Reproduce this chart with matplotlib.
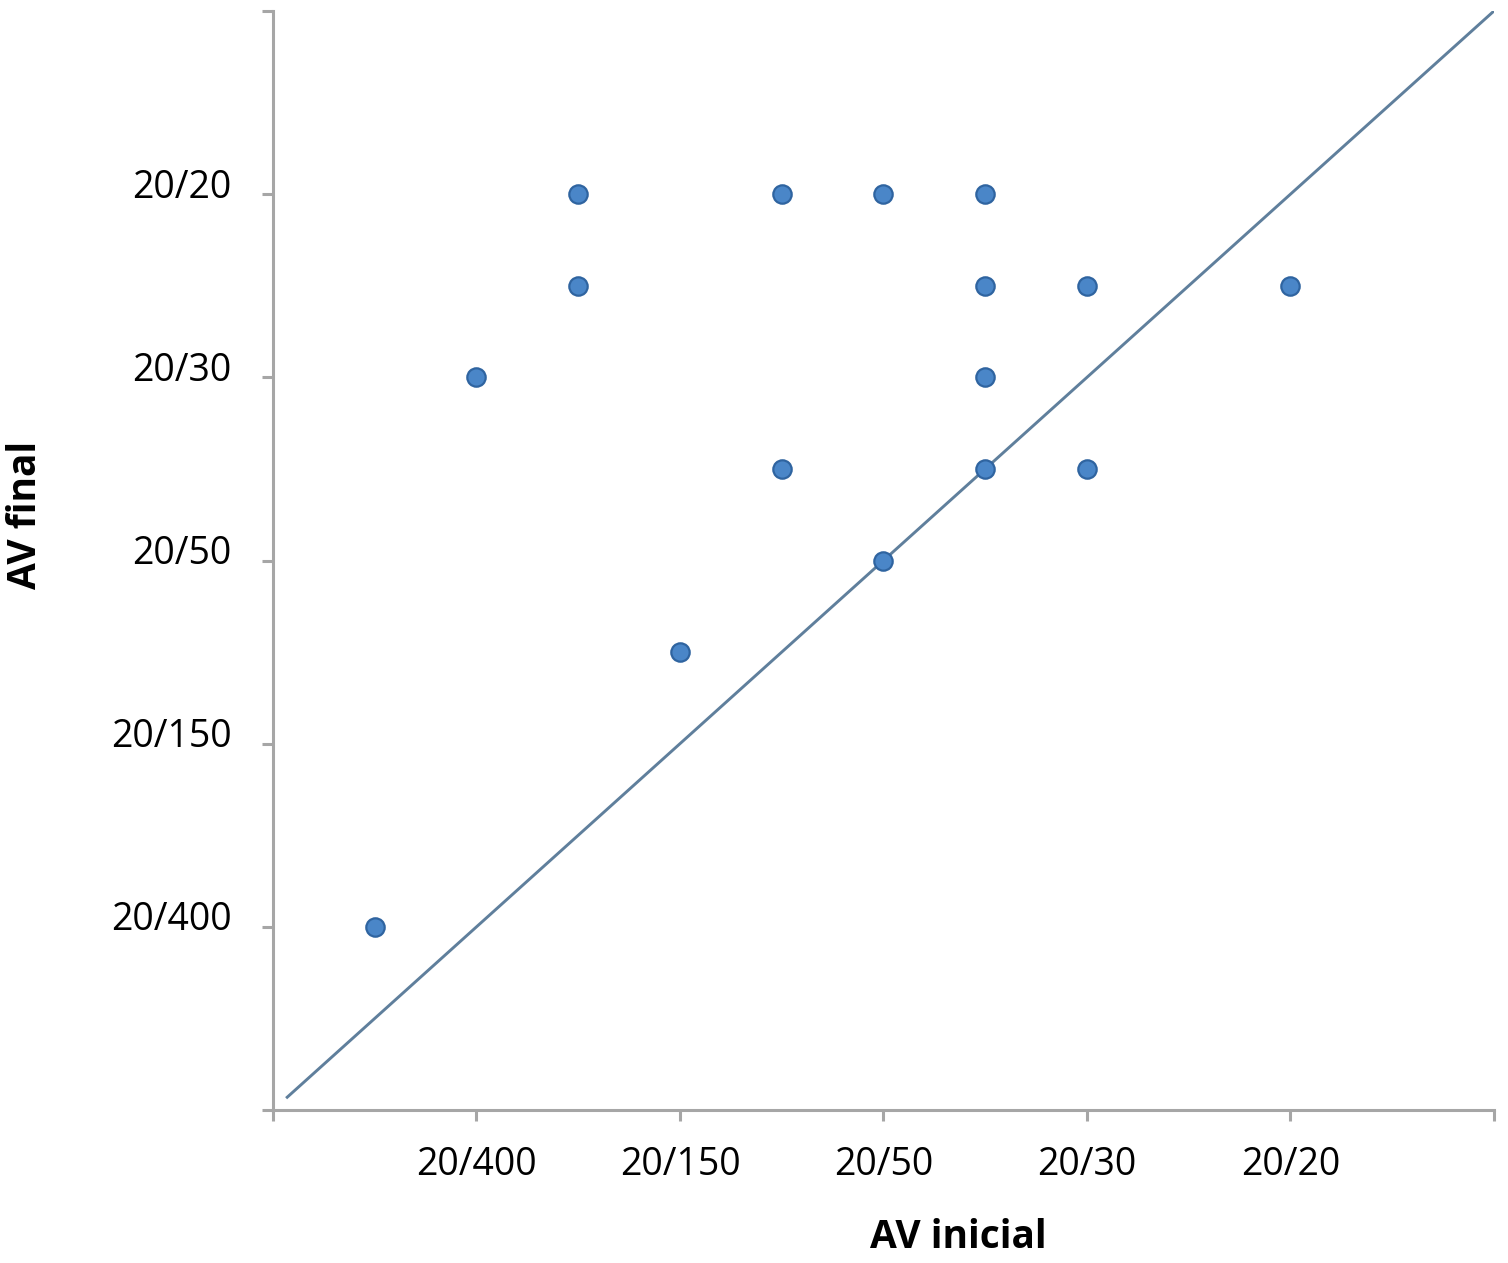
import matplotlib.pyplot as plt
from matplotlib.transforms import ScaledTranslation

# visual acuity scale: 1 .. 7, labelled positions 2..6
tick_pos = [2, 3, 4, 5, 6]
tick_labels = ['20/400', '20/150', '20/50', '20/30', '20/20']

av_inicial = [1.5, 2.0, 2.5, 2.5, 3.0, 3.5, 3.5, 4.0, 4.0, 4.5, 4.5, 4.5, 4.5, 5.0, 5.0, 6.0]
av_final = [2.0, 5.0, 6.0, 5.5, 3.5, 6.0, 4.5, 6.0, 4.0, 6.0, 5.5, 5.0, 4.5, 5.5, 4.5, 5.5]

ref_line = [1.07, 7.0]

plt.rcParams['font.family'] = ['Open Sans', 'DejaVu Sans']

fig = plt.figure(figsize=(15.08, 12.63), dpi=100)
ax = fig.add_axes([0.181, 0.1211, 0.8097, 0.8702])

ax.plot(ref_line, ref_line, color='#5f7f9c', lw=2.1, zorder=2)
ax.scatter(av_inicial, av_final, s=175, color='#4a86c8', edgecolors='#2f64a0',
           linewidths=1.6, zorder=3)

ax.set_xlim(1, 7)
ax.set_ylim(1, 7)
ax.set_xticks(range(1, 8))
ax.set_yticks(range(1, 8))
ax.set_xticklabels([''] + tick_labels + [''])
ax.set_yticklabels([''] + tick_labels + [''])

for s in ['top', 'right']:
    ax.spines[s].set_visible(False)
for s in ['left', 'bottom']:
    ax.spines[s].set_color('#a6a6a6')
    ax.spines[s].set_linewidth(2.2)

ax.tick_params(axis='both', direction='out', length=8, width=2.2, color='#a6a6a6',
               labelsize=27, labelcolor='black')
ax.tick_params(axis='y', pad=22)
ax.tick_params(axis='x', pad=18)

for lab in ax.get_yticklabels():
    lab.set_transform(lab.get_transform() + ScaledTranslation(0, 8 / 72, fig.dpi_scale_trans))

fig.text(958 / 1508, 1 - 1238 / 1263, 'AV inicial', fontsize=28, fontweight='bold',
         ha='center', va='center')
fig.text(25 / 1508, 1 - 515 / 1263, 'AV final', fontsize=28, fontweight='bold',
         ha='center', va='center', rotation=90)

fig.savefig('out.png', dpi=100)
